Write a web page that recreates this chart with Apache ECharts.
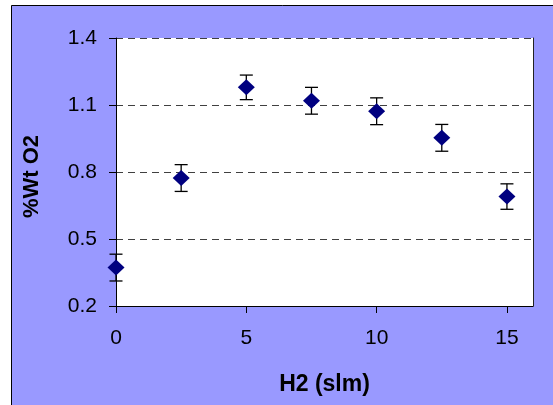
<!DOCTYPE html>
<html>
<head>
<meta charset="utf-8">
<script src="https://cdn.jsdelivr.net/npm/echarts@6/dist/echarts.min.js"></script>
<style>
html,body{margin:0;padding:0;background:#ffffff;}
#chart{width:553px;height:405px;}
</style>
</head>
<body>
<div id="chart"></div>
<script>
const h2Flow = [0, 2.5, 5, 7.5, 10, 12.5, 15];
const wtO2 = [0.372, 0.773, 1.179, 1.119, 1.072, 0.953, 0.690];
const errO2 = [0.06, 0.06, 0.055, 0.06, 0.06, 0.06, 0.057];
const xTicks = [0, 5, 10, 15];
const yTicks = [0.2, 0.5, 0.8, 1.1, 1.4];

const font = '"Liberation Sans", Arial, sans-serif';
const chart = echarts.init(document.getElementById('chart'), null, {renderer: 'canvas'});

const points = h2Flow.map((x, i) => [x, wtO2[i]]);
const bars = h2Flow.map((x, i) => [x, wtO2[i] - errO2[i], wtO2[i] + errO2[i]]);

chart.setOption({
  animation: false,
  backgroundColor: 'transparent',
  graphic: [{
    type: 'rect',
    z: -10,
    shape: {x: 11.5, y: 5.5, width: 600, height: 450},
    style: {fill: '#9999FF', stroke: '#000000', lineWidth: 1}
  }],
  grid: {
    left: 116, top: 38, right: 20, bottom: 99,
    show: true, backgroundColor: '#ffffff', borderWidth: 0
  },
  xAxis: {
    type: 'value', min: 0, max: 16, interval: 5,
    name: 'H2 (slm)', nameLocation: 'middle', nameGap: 67,
    nameTextStyle: {fontFamily: font, fontSize: 23, fontWeight: 'bold', color: '#000'},
    axisLine: {show: true, onZero: false, lineStyle: {color: '#000', width: 1}},
    axisTick: {show: true, length: 7, inside: false, customValues: xTicks, lineStyle: {color: '#000'}},
    axisLabel: {margin: 22, fontFamily: font, fontSize: 21, color: '#000', customValues: xTicks},
    splitLine: {show: false}
  },
  yAxis: [{
    type: 'value', min: yTicks[0], max: yTicks[yTicks.length - 1], interval: 0.3,
    name: '%Wt O2', nameLocation: 'middle', nameGap: 73, nameRotate: 90,
    nameTextStyle: {fontFamily: font, fontSize: 22, fontWeight: 'bold', color: '#000', padding: [0, 9, 0, 0]},
    axisLine: {show: true, onZero: false, lineStyle: {color: '#000', width: 1}},
    axisTick: {show: true, length: 7, lineStyle: {color: '#000'}},
    axisLabel: {margin: 19, fontFamily: font, fontSize: 21, color: '#000',
      formatter: v => v.toFixed(1)},
    splitLine: {show: true, lineStyle: {color: '#404040', width: 1, type: [7, 5]}}
  }, {
    type: 'value', min: yTicks[0], max: yTicks[yTicks.length - 1], interval: 0.3, position: 'right',
    axisLine: {show: true, onZero: false, lineStyle: {color: '#222', width: 1}},
    axisTick: {show: false}, axisLabel: {show: false}, splitLine: {show: false}
  }],
  series: [{
    type: 'custom',
    z: 2,
    data: bars,
    renderItem: function (params, api) {
      const x = api.value(0);
      const lo = api.coord([x, api.value(1)]);
      const hi = api.coord([x, api.value(2)]);
      const hw = 6.5;
      const style = {stroke: '#000', lineWidth: 1.3};
      return {
        type: 'group',
        children: [
          {type: 'line', shape: {x1: lo[0], y1: lo[1], x2: hi[0], y2: hi[1]}, style: style},
          {type: 'line', shape: {x1: lo[0] - hw, y1: lo[1], x2: lo[0] + hw, y2: lo[1]}, style: style},
          {type: 'line', shape: {x1: hi[0] - hw, y1: hi[1], x2: hi[0] + hw, y2: hi[1]}, style: style}
        ]
      };
    }
  }, {
    type: 'scatter',
    z: 3,
    data: points,
    symbol: 'diamond',
    symbolSize: [17, 16],
    itemStyle: {color: '#000080', opacity: 1}
  }]
});
</script>
</body>
</html>
